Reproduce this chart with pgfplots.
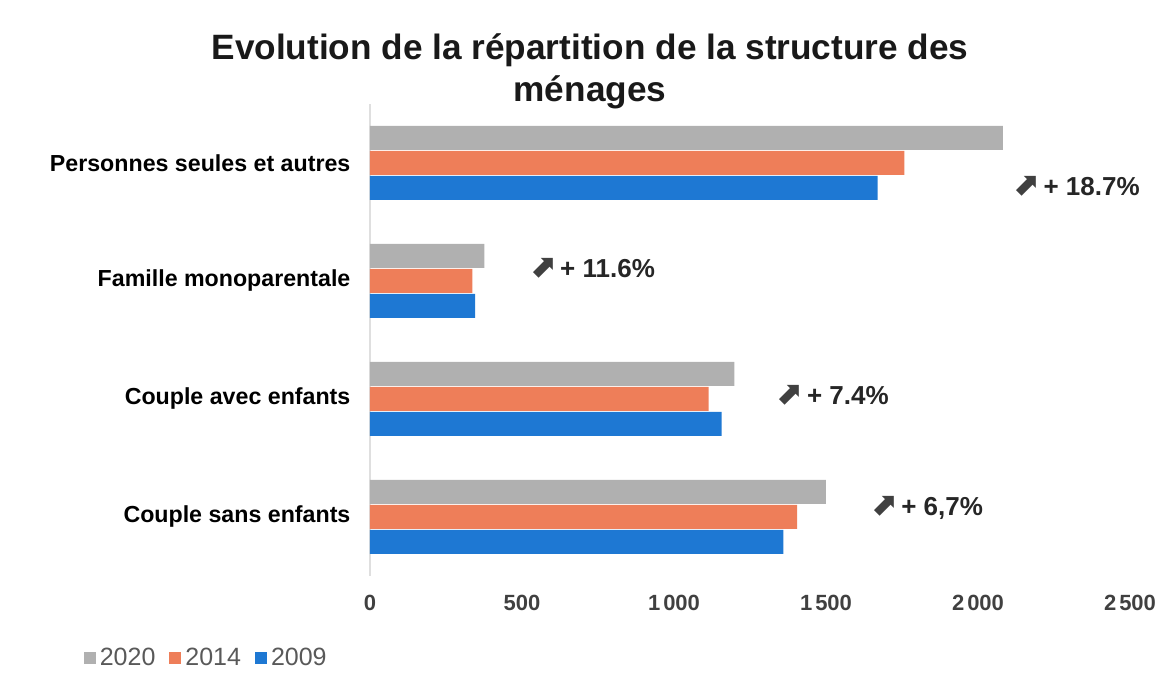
\documentclass[border=0pt]{standalone}
\usepackage{fontspec}
\setmainfont{Liberation Sans}
\newfontfamily\symfont{DejaVu Sans}
\usepackage{pgfplots}
\pgfplotsset{compat=1.18}
\definecolor{c2020}{HTML}{B0B0B0}
\definecolor{c2014}{HTML}{EE7E59}
\definecolor{c2009}{HTML}{1E78D3}
\definecolor{ticktxt}{HTML}{404040}
\definecolor{legtxt}{HTML}{595959}
\newcommand{\hausse}[1]{{\symfont\fontsize{16}{16}\selectfont\color{ticktxt}\bfseries ⬈}\,\textbf{+ #1}}
\begin{document}
\begin{tikzpicture}
\path[use as bounding box] (0,0) rectangle (579pt,344.5pt);
\node[font=\bfseries\fontsize{17.6}{21}\selectfont, align=center, text=black!90]
  at (295pt,309pt) {Evolution de la répartition de la structure des\\ménages};
\begin{axis}[
  at={(185pt,56.5pt)}, anchor=south west,
  scale only axis, width=380pt, height=236pt,
  xmin=0, xmax=2500, ymin=-0.5, ymax=3.5,
  xtick={0,500,1000,1500,2000,2500},
  ytick={0,1,2,3},
  yticklabels={Couple sans enfants,Couple avec enfants,Famille monoparentale,Personnes seules et autres},
  axis line style={draw=none}, tick style={draw=none},
  extra x ticks={0}, extra x tick labels={},
  extra x tick style={grid=major, major grid style={gray!25, line width=0.6pt}},
  /pgf/number format/assume math mode=true,
  /pgf/number format/1000 sep={\kern1.5pt},
  xticklabel style={font=\bfseries\fontsize{11}{14}\selectfont, text=ticktxt, yshift=-6pt},
  yticklabel style={font=\bfseries\fontsize{11.6}{13}\selectfont, text=black, xshift=-2pt},
  xbar, bar width=12pt,
  legend style={at={(-0.385,-0.135)}, anchor=north west, draw=none, fill=none,
    font=\fontsize{12.5}{14}\selectfont, text=legtxt, legend columns=3,
    /tikz/every even column/.append style={column sep=5pt}},
  legend image code/.code={\fill[#1] (0pt,-3pt) rectangle (6pt,3pt);},
  clip=false,
]
\addplot[fill=c2020, draw=none, bar shift=12.5pt] coordinates {
  (1500,0) (1199,1) (376,2) (2082,3)};
\addlegendentry{2020}
\addplot[fill=c2014, draw=none, bar shift=0pt] coordinates {
  (1405,0) (1114,1) (337,2) (1758,3)};
\addlegendentry{2014}
\addplot[fill=c2009, draw=none, bar shift=-12.5pt] coordinates {
  (1360,0) (1157,1) (346,2) (1670,3)};
\addlegendentry{2009}
\node[anchor=west, font=\fontsize{13}{15}\selectfont, text=black!85] at (axis cs:2090,2.805) {\hausse{18.7\%}};
\node[anchor=west, font=\fontsize{13}{15}\selectfont, text=black!85] at (axis cs:500,2.11) {\hausse{11.6\%}};
\node[anchor=west, font=\fontsize{13}{15}\selectfont, text=black!85] at (axis cs:1312,1.034) {\hausse{7.4\%}};
\node[anchor=west, font=\fontsize{13}{15}\selectfont, text=black!85] at (axis cs:1622,0.076) {\hausse{6,7\%}};
\end{axis}
\end{tikzpicture}
\end{document}
